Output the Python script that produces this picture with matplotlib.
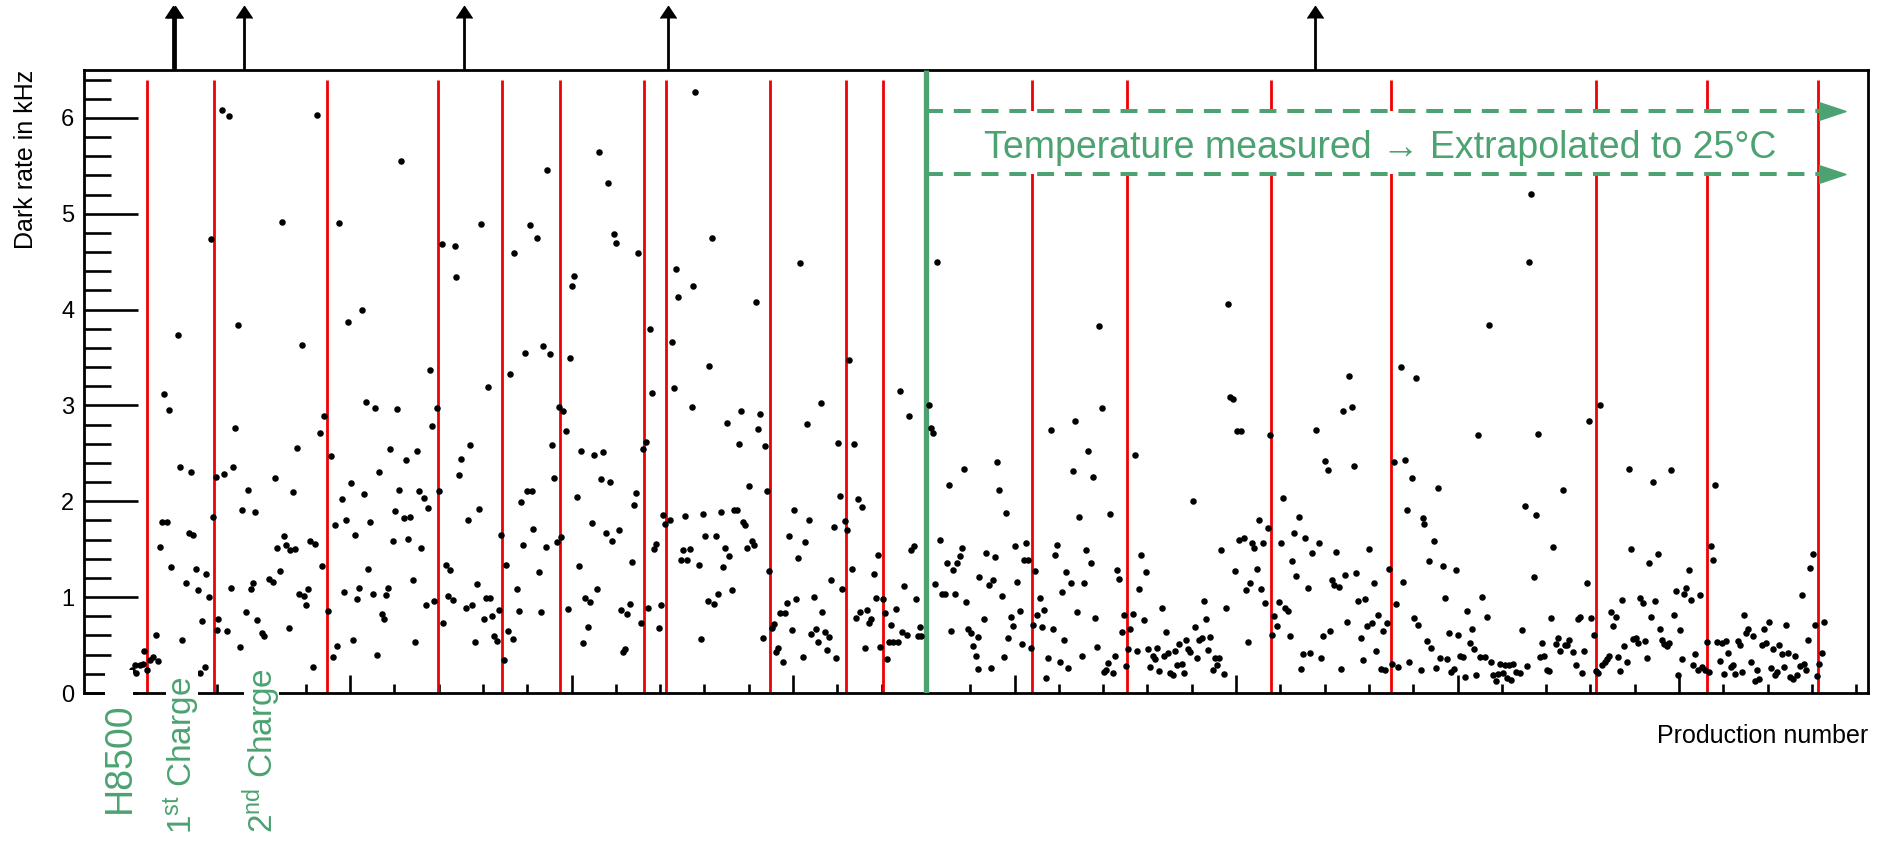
import numpy as np
import matplotlib.pyplot as plt
from matplotlib.patches import Rectangle

plt.rcParams['font.family'] = ['Liberation Sans', 'DejaVu Sans']
plt.rcParams['mathtext.fontset'] = 'custom'
plt.rcParams['mathtext.rm'] = 'Liberation Sans'
plt.rcParams['mathtext.it'] = 'Liberation Sans:italic'
plt.rcParams['mathtext.bf'] = 'Liberation Sans:bold'

GREEN = '#4ca271'
RED = '#f00000'

# production number boundaries (red), start of temperature correction (green)
red_lines = [8.5, 38.6, 89.8, 139.7, 168.5, 194.8, 232.9, 242.7, 289.7, 323.8,
             340.8, 407.7, 450.6, 515.6, 569.8, 662.6, 712.8, 762.8]
temp_start = 360.0
# off-scale PMTs (arrows above the frame)
outliers = [20.3, 20.9, 52.2, 151.5, 243.6, 535.6]

# [production number, dark rate kHz]
high_rate = np.array([
    [255.8, 6.27], [42.2, 6.08], [45.2, 6.02], [85.1, 6.03], [123.2, 5.55], [212.3, 5.64],
    [216.3, 5.32], [189.1, 5.46], [69.2, 4.91], [95.2, 4.90], [37.1, 4.74], [159.1, 4.89],
    [181.2, 4.88], [184.2, 4.75], [219.1, 4.79], [220.3, 4.70], [141.3, 4.68], [147.2, 4.66],
    [174.2, 4.59], [230.2, 4.59], [148.0, 4.34], [201.2, 4.35], [200.4, 4.25], [247.1, 4.42],
    [255.0, 4.25], [248.1, 4.13], [105.2, 4.00], [99.2, 3.87], [49.2, 3.84], [22.2, 3.73],
    [78.2, 3.63], [235.2, 3.80], [245.3, 3.66], [187.1, 3.62], [179.2, 3.55], [190.1, 3.54],
    [199.2, 3.49], [136.1, 3.37], [172.1, 3.33],
    [263.2, 4.75], [303.3, 4.49], [283.2, 4.08], [365.2, 4.50], [262.2, 3.41], [325.3, 3.47],
    [496.2, 4.06], [438.2, 3.83], [551.2, 3.31],
    [633.1, 5.21], [632.2, 4.50], [614.2, 3.84], [574.5, 3.40], [581.2, 3.29],
])

batch_a = np.array([
    [1.5, 0.24], [2.9, 0.29], [3.4, 0.21], [5.2, 0.29], [6.5, 0.30], [7.0, 0.44], [8.4, 0.24],
    [9.7, 0.34], [11.0, 0.38], [12.4, 0.61], [13.3, 0.33],
    [16.2, 3.12], [18.3, 2.95], [48.2, 2.77], [23.2, 2.36], [28.2, 2.31], [47.3, 2.36],
    [43.3, 2.29], [39.3, 2.25], [54.1, 2.12], [66.1, 2.24], [76.2, 2.56], [74.1, 2.10],
    [51.2, 1.91], [57.2, 1.89], [38.3, 1.84], [15.1, 1.78], [17.4, 1.78], [14.2, 1.52],
    [27.2, 1.67], [29.3, 1.65], [19.2, 1.31], [30.3, 1.29], [35.1, 1.24], [26.1, 1.15],
    [31.2, 1.07], [36.2, 1.00], [33.2, 0.75], [24.1, 0.55],
    [40.4, 0.77], [44.3, 0.65], [40.1, 0.66], [50.3, 0.48], [32.3, 0.21], [34.4, 0.27],
    [46.3, 1.10], [53.2, 0.84], [55.1, 1.08], [56.2, 1.15], [58.0, 0.76], [60.3, 0.63],
    [61.3, 0.59], [63.3, 1.19], [65.2, 1.16], [68.2, 1.27], [67.2, 1.51], [70.2, 1.64],
    [71.2, 1.54], [73.1, 1.49], [75.2, 1.50], [72.3, 0.68], [77.1, 1.03], [79.1, 1.01],
    [81.2, 1.08], [80.1, 0.92], [82.1, 1.59], [84.2, 1.55], [83.1, 0.27], [87.2, 1.32],
    [86.3, 2.71], [88.1, 2.89], [91.3, 2.47], [90.2, 0.86], [92.2, 0.38], [94.3, 0.49],
    [93.4, 1.75], [96.2, 2.02], [98.3, 1.81], [100.3, 2.19], [102.2, 1.65], [97.3, 1.05],
    [101.3, 0.55], [104.2, 1.10], [103.3, 0.98], [106.3, 2.08], [107.2, 3.04], [111.3, 2.97],
    [108.3, 1.29], [109.2, 1.78], [110.4, 1.03], [112.3, 0.40], [113.2, 2.31], [114.3, 0.82],
    [115.3, 0.77], [116.2, 1.02], [117.1, 1.10], [118.2, 2.55], [119.3, 1.59], [120.3, 1.90],
    [121.2, 2.96], [122.3, 2.12], [124.2, 1.83], [127.2, 1.84], [125.3, 2.43], [126.2, 1.61],
    [128.3, 1.18], [129.2, 0.53], [130.2, 2.53], [131.3, 2.11], [132.2, 1.51], [133.2, 2.03],
    [134.1, 0.92], [135.4, 1.93], [137.2, 2.79], [139.1, 2.97], [137.9, 0.96], [140.3, 2.11],
    [142.1, 0.73], [143.3, 1.34], [145.3, 1.28], [144.2, 1.01], [146.3, 0.97], [149.2, 2.27],
    [150.2, 2.44], [153.3, 1.80], [154.3, 2.59], [152.4, 0.89], [155.2, 0.92], [157.3, 1.14],
    [158.2, 1.92], [156.3, 0.53], [160.3, 0.77], [161.2, 0.99], [163.2, 0.99], [162.3, 3.19],
    [164.3, 0.80], [165.2, 0.59], [166.2, 0.54], [167.1, 0.87], [168.0, 1.65], [169.5, 0.34],
    [170.4, 1.34], [171.3, 0.65], [173.4, 0.56], [175.2, 1.08], [176.1, 0.86], [177.2, 1.99],
    [178.2, 1.54], [180.1, 2.11], [182.0, 2.11], [182.6, 1.71],
])

batch_b = np.array([
    [185.4, 1.26], [186.4, 0.84], [188.4, 1.52], [191.4, 2.59], [192.3, 2.24], [193.3, 1.58],
    [194.2, 2.98], [195.4, 1.63], [196.3, 2.94], [197.4, 2.73], [198.5, 0.88], [202.4, 2.05],
    [203.3, 1.32], [204.3, 2.53], [205.4, 0.52], [206.3, 0.99], [208.4, 0.95], [207.3, 0.69],
    [209.3, 1.77], [210.3, 2.48], [211.4, 1.08], [213.4, 2.23], [214.4, 2.51], [215.5, 1.67],
    [217.4, 2.20], [218.3, 1.59], [221.3, 1.70], [222.4, 0.87], [223.3, 0.43], [224.3, 0.46],
    [225.2, 0.82], [226.3, 0.93], [227.4, 1.37], [228.4, 1.96], [229.3, 2.09], [231.3, 0.73],
    [232.3, 2.55], [233.4, 2.62], [234.4, 0.89], [236.4, 3.13], [237.3, 1.50], [238.3, 1.55],
    [239.4, 0.68], [240.3, 0.92], [241.2, 1.86], [242.2, 1.76], [244.4, 1.81], [246.3, 3.18],
    [249.3, 1.39], [250.4, 1.49], [253.4, 1.50], [251.4, 1.85], [252.3, 1.39], [254.3, 2.98],
    [257.4, 1.34], [258.4, 0.56], [259.3, 1.87], [260.3, 1.64], [261.4, 0.96], [264.4, 0.93],
    [265.3, 1.64], [266.3, 1.03], [267.4, 1.89], [268.3, 1.31], [269.3, 1.51], [270.2, 2.82],
    [271.3, 1.43], [272.3, 1.07], [273.2, 1.91], [274.8, 1.91], [275.4, 2.60], [276.3, 2.94],
    [277.3, 1.78], [278.4, 1.75], [279.3, 1.51], [280.3, 2.16], [281.4, 1.59], [282.4, 1.54],
    [284.4, 2.75], [285.3, 2.91], [286.3, 0.57], [287.4, 2.58], [288.3, 2.11], [289.3, 1.27],
    [290.4, 0.68], [291.6, 0.72], [292.4, 0.43], [293.4, 0.47], [294.3, 0.83], [296.4, 0.83],
    [295.4, 0.32], [297.3, 0.94], [298.4, 1.64], [299.4, 0.66], [300.3, 1.91], [301.4, 0.98],
    [302.3, 1.41], [304.4, 0.38], [305.3, 1.58], [306.4, 2.81], [307.4, 1.80], [308.3, 0.62],
    [310.4, 0.67], [309.4, 1.00], [311.3, 0.53], [312.4, 3.03], [313.3, 0.84], [314.3, 0.64],
    [315.4, 0.45], [316.4, 0.58], [317.3, 1.18], [318.4, 1.73], [319.3, 0.37], [320.3, 2.61],
    [321.4, 2.06], [322.3, 1.08], [323.4, 1.79], [324.4, 1.70], [326.4, 1.29], [327.4, 2.60],
    [328.5, 0.78], [330.4, 0.84], [333.3, 0.87], [329.4, 2.02], [331.3, 1.94], [332.4, 0.47],
    [334.4, 0.73], [335.4, 0.77], [336.4, 1.24], [337.4, 0.99], [338.4, 1.44], [339.2, 0.48],
    [340.4, 0.98], [341.6, 0.83], [342.5, 0.35], [343.4, 0.53], [345.3, 0.53], [347.3, 0.53],
    [344.3, 0.71], [346.4, 0.88], [348.3, 3.15], [349.4, 0.64], [351.4, 0.61], [350.3, 1.12],
    [352.3, 2.89], [353.3, 1.49], [354.4, 1.53], [355.3, 0.98], [356.2, 0.59], [357.8, 0.59],
    [357.2, 0.69], [361.4, 3.01], [362.5, 2.76], [363.4, 2.71], [364.3, 1.14], [366.4, 1.60],
    [367.3, 1.03], [368.5, 1.03], [369.4, 1.36], [370.3, 2.17], [371.4, 0.65], [372.3, 1.28],
    [373.3, 1.03], [374.2, 1.36], [375.3, 1.43], [376.3, 1.51], [377.2, 2.34], [378.3, 0.95],
    [379.2, 0.67], [380.2, 0.63], [381.3, 0.49], [382.4, 0.39], [383.4, 0.25], [383.4, 0.58],
    [384.0, 1.21],
])

batch_c = np.array([
    [386.2, 0.77], [387.3, 1.46], [388.3, 1.13], [390.3, 1.18], [389.2, 0.26], [391.2, 1.42],
    [392.2, 2.41], [393.1, 2.12], [394.2, 1.01], [395.2, 0.38], [396.3, 1.88], [397.2, 0.57],
    [398.3, 0.79], [399.3, 0.70], [400.2, 1.53], [401.3, 1.16], [402.3, 0.86], [403.2, 0.51],
    [404.3, 1.39], [406.2, 1.39], [405.3, 1.56], [407.3, 0.47], [408.3, 0.71], [409.4, 1.27],
    [410.3, 0.81], [411.3, 0.99], [412.2, 0.69], [413.3, 0.87], [414.4, 0.16], [415.3, 0.37],
    [416.3, 2.74], [417.4, 0.67], [418.3, 1.44], [419.3, 1.54], [420.4, 0.32], [421.3, 1.05],
    [422.3, 0.55], [423.2, 1.26], [424.3, 0.26], [425.3, 1.15], [426.2, 2.32], [427.3, 2.84],
    [428.3, 0.84], [429.3, 1.84], [430.3, 0.39], [431.2, 1.15], [432.3, 1.49], [433.3, 2.53],
    [434.4, 1.36], [435.3, 2.25], [436.3, 0.78], [437.4, 0.48], [439.3, 2.97], [440.2, 0.22],
    [441.3, 0.24], [442.3, 0.31], [443.2, 1.87], [444.3, 0.21], [445.4, 0.39], [446.4, 1.28],
    [447.3, 1.19], [448.4, 0.64], [449.4, 0.81], [450.3, 0.28], [451.4, 0.46], [452.3, 0.67],
    [453.3, 0.82], [454.4, 2.48], [455.3, 0.44], [456.3, 1.08], [457.2, 1.44], [458.3, 0.76],
    [459.3, 1.26], [460.4, 0.46], [461.3, 0.27], [462.4, 0.39], [463.4, 0.35], [464.3, 0.47],
    [465.4, 0.23], [466.4, 0.89], [467.3, 0.39], [469.4, 0.42], [468.4, 0.64], [470.3, 0.21],
    [471.4, 0.19], [472.4, 0.44], [473.3, 0.29], [475.4, 0.30], [474.4, 0.51], [476.4, 0.21],
    [477.4, 0.55], [478.3, 0.46], [479.4, 0.43], [480.4, 2.00], [481.3, 0.69], [482.4, 0.37],
    [483.4, 0.55], [484.5, 0.57], [485.4, 0.96], [486.4, 0.77], [487.5, 0.45], [488.4, 0.58],
    [489.4, 0.24], [490.4, 0.37], [492.5, 0.36], [491.4, 0.29], [493.4, 1.49], [494.4, 0.20],
    [495.3, 0.89], [497.4, 3.09], [498.5, 3.07], [499.4, 1.27], [500.4, 2.73], [502.4, 2.73],
    [501.3, 1.60], [503.4, 1.62], [504.3, 1.07], [505.4, 0.53], [506.3, 1.15], [507.4, 1.57],
    [508.3, 1.51], [509.3, 1.29], [510.4, 1.81], [511.3, 1.09], [512.3, 1.57], [513.2, 0.94],
    [514.3, 1.72], [515.2, 2.69], [516.2, 0.60], [517.3, 0.80], [518.3, 0.70], [519.2, 0.95],
    [520.3, 1.57], [521.3, 2.03], [522.3, 0.89], [523.3, 0.86], [524.2, 0.59], [525.3, 1.38],
    [526.3, 1.67], [527.2, 1.22], [528.3, 1.84], [529.3, 0.25], [530.4, 0.41], [533.4, 0.42],
    [531.3, 1.62], [532.3, 1.10], [534.3, 1.46], [536.2, 2.74], [537.3, 1.57], [538.4, 0.36],
    [539.3, 0.59], [540.3, 2.42], [541.4, 2.33], [542.3, 0.65], [543.3, 1.18], [544.4, 1.13],
    [546.3, 1.11], [545.3, 1.47], [547.2, 0.25], [548.3, 2.94], [549.3, 1.23], [550.2, 0.74],
    [552.4, 2.98], [553.3, 2.37], [554.3, 1.25], [555.2, 0.96], [558.2, 0.98], [556.3, 0.57],
    [557.2, 0.34], [559.3, 0.70], [561.2, 0.73], [560.2, 1.50], [562.3, 1.15], [563.2, 0.44],
    [564.2, 0.81], [565.3, 0.25], [567.3, 0.24], [566.2, 0.65], [568.3, 0.73], [569.2, 1.29],
    [570.3, 0.30], [571.3, 2.41], [572.4, 0.93], [573.3, 0.27], [575.2, 1.16], [576.3, 2.43],
    [577.3, 1.91], [578.2, 0.32], [579.3, 2.24], [580.3, 0.78], [582.3, 0.71], [583.4, 0.24],
    [584.4, 1.83], [584.9, 1.76],
])

batch_d = np.array([
    [589.3, 1.59], [587.2, 1.38], [586.3, 0.54], [588.2, 0.47], [590.3, 0.26], [591.2, 2.14],
    [592.3, 0.36], [595.3, 0.35], [593.3, 1.32], [594.2, 0.99], [596.3, 0.63], [597.2, 0.22],
    [598.3, 0.25], [599.2, 1.28], [600.3, 0.61], [601.3, 0.39], [602.4, 0.38], [603.3, 0.17],
    [604.3, 0.86], [605.4, 0.52], [606.3, 0.67], [607.3, 0.46], [608.2, 0.19], [609.3, 2.69],
    [610.3, 0.38], [612.3, 0.38], [611.2, 1.00], [613.3, 0.79], [615.3, 0.32], [616.2, 0.19],
    [618.3, 0.20], [617.3, 0.13], [619.2, 0.30], [621.3, 0.29], [623.3, 0.29], [625.2, 0.30],
    [620.3, 0.21], [622.2, 0.16], [624.3, 0.14], [626.3, 0.22], [628.2, 0.21], [629.3, 0.66],
    [630.4, 1.95], [631.3, 0.28], [634.3, 1.21], [635.3, 1.86], [636.4, 2.70], [637.3, 0.38],
    [639.2, 0.39], [638.3, 0.52], [640.3, 0.24], [641.3, 0.23], [642.2, 0.78], [643.3, 1.52],
    [644.3, 0.51], [646.3, 0.44], [648.4, 0.50], [650.4, 0.55], [652.3, 0.43], [645.2, 0.57],
    [649.3, 0.50], [647.4, 2.12], [653.4, 0.29], [654.3, 0.77], [655.3, 0.79], [656.4, 0.21],
    [657.3, 0.44], [658.3, 1.15], [659.2, 2.84], [660.3, 0.78], [661.4, 0.61], [662.3, 0.23],
    [663.5, 0.21], [664.4, 3.00], [665.4, 0.29], [666.5, 0.32], [667.4, 0.35], [668.4, 0.39],
    [669.3, 0.85], [671.4, 0.79], [670.4, 0.70], [672.3, 0.38], [673.4, 0.23], [674.3, 0.97],
    [675.3, 0.49], [676.4, 0.32], [677.3, 2.34], [678.4, 1.50], [679.4, 0.56], [681.4, 0.52],
    [684.4, 0.54], [680.5, 0.57], [682.4, 0.99], [683.5, 0.94], [685.4, 0.36], [686.3, 1.36],
    [687.4, 0.79], [688.3, 2.20], [689.3, 0.96], [690.4, 1.45], [691.3, 0.67], [692.4, 0.55],
    [693.4, 0.51], [694.5, 0.49], [695.4, 0.52], [696.4, 2.33], [697.5, 0.81], [698.4, 1.06],
    [699.4, 0.19], [700.3, 0.66], [701.4, 0.35], [702.4, 1.03], [703.3, 1.10], [704.4, 1.28],
    [705.4, 0.97], [706.3, 0.29], [707.4, 0.41], [708.4, 0.24], [710.4, 0.27], [711.5, 0.24],
    [709.4, 1.02], [712.4, 0.53], [713.4, 0.22], [714.3, 1.53], [715.4, 1.39], [716.3, 2.17],
    [717.3, 0.53], [719.4, 0.52], [718.4, 0.33], [720.3, 0.20], [721.4, 0.54], [722.3, 0.42],
    [723.4, 0.27], [724.4, 0.29], [725.3, 0.20], [726.4, 0.54], [727.3, 0.50], [728.3, 0.22],
    [729.4, 0.81], [730.3, 0.63], [731.3, 0.67], [732.4, 0.32], [733.3, 0.59], [734.3, 0.13],
    [736.3, 0.15], [735.2, 0.24], [737.4, 0.50], [739.3, 0.52], [738.4, 0.67], [740.4, 0.74],
    [741.3, 0.26], [742.3, 0.46], [743.4, 0.19], [744.3, 0.22], [745.3, 0.50], [746.4, 0.41],
    [747.3, 0.27], [748.3, 0.71], [749.4, 0.42], [750.3, 0.17], [751.4, 0.15], [752.4, 0.39],
    [753.3, 0.19], [754.4, 0.28], [756.3, 0.30], [755.4, 1.02], [757.4, 0.24], [758.4, 0.55],
    [759.3, 1.30], [760.4, 1.45], [761.3, 0.71], [762.3, 0.18], [763.4, 0.30], [764.4, 0.42],
    [765.3, 0.74],
])

pts = np.vstack([high_rate, batch_a, batch_b, batch_c, batch_d])

fig = plt.figure(figsize=(18.81, 8.44), dpi=100)
ax = fig.add_axes([84 / 1881, 151 / 844, 1784 / 1881, 623 / 844])
ax.set_xlim(-20.1, 785.3)
ax.set_ylim(0, 6.5)

# red batch boundaries and green start of temperature measurement
ax.vlines(red_lines, 0, 6.4, color=RED, lw=2, zorder=2)
ax.vlines(temp_start, 0, 6.5, color=GREEN, lw=3.8, zorder=3)

# white band behind the annotation
ax.add_patch(Rectangle((temp_start, 5.41), 754.6 - temp_start, 0.66,
                       facecolor='white', edgecolor='none', zorder=2.5))
head = [(-1.5, -1), (1.5, 0), (-1.5, 1)]
for yy in (6.07, 5.41):
    ax.plot([temp_start, 768], [yy, yy], color=GREEN, lw=2.9, dashes=(4.2, 2.7), zorder=3)
    ax.plot([769], [yy], marker=head, ms=19.4, color=GREEN, zorder=3)
ax.text(565.2, 5.583, 'Temperature measured \u2192 Extrapolated to 25\u00b0C',
        color=GREEN, fontsize=27, ha='center', va='baseline', zorder=4)

ax.scatter(pts[:, 0], pts[:, 1], s=22, c='k', lw=0, zorder=4)

# arrows for values above the range
up_head = [(-1, -0.75), (0, 0.75), (1, -0.75)]
for n in outliers:
    ax.plot([n, n], [6.5, 7.06], color='k', lw=2, clip_on=False, solid_capstyle='butt')
    ax.plot([n], [7.10], marker=up_head, ms=11.5, color='k', clip_on=False)

# ticks and frame
ax.set_xticks(np.arange(0, 800, 100))
ax.set_xticks(np.arange(0, 785, 20), minor=True)
ax.set_yticks(np.arange(0, 7, 1))
ax.set_yticks(np.arange(0, 6.5, 0.2), minor=True)
ax.tick_params(axis='y', which='major', direction='in', length=38.9, width=1.9,
               labelsize=17, pad=7)
ax.tick_params(axis='y', which='minor', direction='in', length=19.4, width=1.9)
ax.tick_params(axis='x', which='major', direction='in', length=13, width=1.9, labelbottom=False)
ax.tick_params(axis='x', which='minor', direction='in', length=6.5, width=1.9)
ax.tick_params(top=False, right=False)
for sp in ax.spines.values():
    sp.set_linewidth(2)

ax.set_xlabel('Production number', fontsize=18, loc='right')
ax.xaxis.set_label_coords(1.0, -0.0498)
ax.set_ylabel('Dark rate in kHz', fontsize=18, loc='top')
ax.yaxis.set_label_coords(-0.0258, 1.0)

# labels for the first batches, on white boxes
for x0, x1, top in [(-10.6, 1.8, 0.24), (16.9, 31.4, 0.44), (52.1, 67.9, 0.52)]:
    ax.add_patch(Rectangle((x0, -1.7), x1 - x0, top + 1.7, facecolor='white',
                           edgecolor='none', zorder=5, clip_on=False))
ax.text(-3.8, -0.094, 'H8500', rotation=90, ha='center', va='top', color=GREEN,
        fontsize=27, zorder=6, clip_on=False)
ax.text(24.2, 0.167, r'1$^{\mathrm{st}}$ Charge', rotation=90, ha='center', va='top',
        color=GREEN, fontsize=24, zorder=6, clip_on=False)
ax.text(60.0, 0.26, r'2$^{\mathrm{nd}}$ Charge', rotation=90, ha='center', va='top',
        color=GREEN, fontsize=24, zorder=6, clip_on=False)

fig.savefig('out.png', dpi=100)
